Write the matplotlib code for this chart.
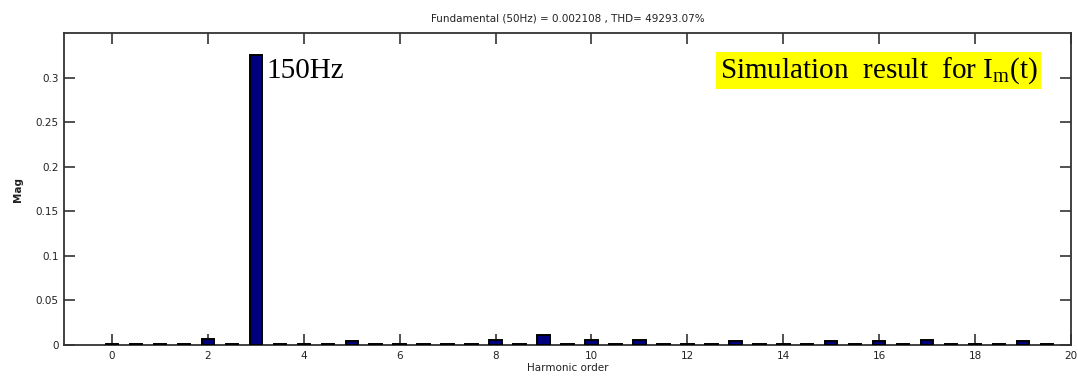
import numpy as np
import matplotlib
matplotlib.use("Agg")
import matplotlib.pyplot as plt

# Harmonic spectrum (half-order resolution)
orders = np.arange(0, 20, 0.5)
mags = [0.0008, 0.0008, 0.0008, 0.0008, 0.0065, 0.0008, 0.325, 0.0008, 0.0008, 0.0008,
        0.0045, 0.0008, 0.0008, 0.0008, 0.0008, 0.0008, 0.006, 0.0008, 0.011, 0.0008,
        0.006, 0.0008, 0.006, 0.0008, 0.0008, 0.0008, 0.004, 0.0008, 0.0008, 0.0008,
        0.004, 0.0008, 0.0045, 0.0008, 0.006, 0.0008, 0.0008, 0.0008, 0.004, 0.0008]
xticks = list(range(0, 21, 2))
yticks = [0, 0.05, 0.1, 0.15, 0.2, 0.25, 0.3]
ytick_labels = ["0", "0.05", "0.1", "0.15", "0.2", "0.25", "0.3"]
title = "Fundamental (50Hz) = 0.002108 , THD= 49293.07%"
peak_label = "150Hz"

plt.rcParams["mathtext.fontset"] = "custom"
plt.rcParams["mathtext.rm"] = "Liberation Serif"
plt.rcParams["mathtext.it"] = "Liberation Serif:italic"

fig = plt.figure(figsize=(10.78, 3.83), dpi=100)
ax = fig.add_axes([0.0594, 0.0992, 0.9341, 0.8146])

ax.bar(orders, mags, width=0.26, color="#00007f", edgecolor="black",
       linewidth=1.4, zorder=3)

ax.set_xlim(-1, 20)
ax.set_ylim(0, 0.35)
ax.set_xticks(xticks)
ax.set_yticks(yticks)
ax.set_yticklabels(ytick_labels)
ax.tick_params(direction="in", length=8, width=1.2, top=True, right=True,
               labelsize=7.5, labelcolor="#222222", color="#333333", pad=4)
for s in ax.spines.values():
    s.set_color("#333333")
    s.set_linewidth(1.3)

ax.set_title(title, fontsize=7.5, color="#222222", pad=8)
ax.set_xlabel("Harmonic order", fontsize=7.5, color="#222222", labelpad=2)
ax.set_ylabel("Mag", fontsize=7.5, color="#222222", labelpad=9,
              fontweight="bold")

peak_x = orders[int(np.argmax(mags))]
ax.text(peak_x + 0.22, 0.3, peak_label, fontsize=21,
        family="Liberation Serif", color="black", va="baseline", ha="left",
        zorder=4)

fig.text(0.6675, 0.798, r"Simulation  result  for I$_{\mathrm{m}}$(t)",
         fontsize=21, family="Liberation Serif", color="black",
         va="baseline", ha="left",
         bbox=dict(boxstyle="square,pad=0.12", facecolor="#ffff00",
                   edgecolor="none"))

fig.savefig("out.png", dpi=100)
